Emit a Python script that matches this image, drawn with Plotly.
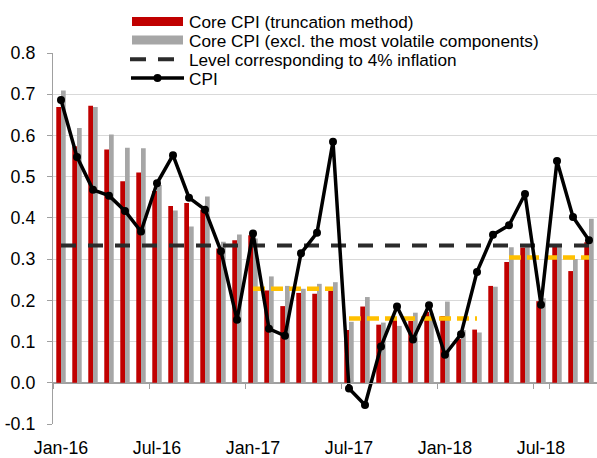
import plotly.graph_objects as go

# ---------------- data ----------------
months = ["Jan-16", "Feb-16", "Mar-16", "Apr-16", "May-16", "Jun-16", "Jul-16", "Aug-16",
          "Sep-16", "Oct-16", "Nov-16", "Dec-16", "Jan-17", "Feb-17", "Mar-17", "Apr-17",
          "May-17", "Jun-17", "Jul-17", "Aug-17", "Sep-17", "Oct-17", "Nov-17", "Dec-17",
          "Jan-18", "Feb-18", "Mar-18", "Apr-18", "May-18", "Jun-18", "Jul-18", "Aug-18",
          "Sep-18", "Oct-18"]

core_trunc = [0.669, 0.574, 0.672, 0.566, 0.489, 0.510, 0.465, 0.429, 0.436, 0.420,
              0.326, 0.346, 0.358, 0.224, 0.186, 0.218, 0.216, 0.224, 0.128, 0.185,
              0.141, 0.155, 0.150, 0.172, 0.162, 0.106, 0.129, 0.235, 0.293, 0.328,
              0.198, 0.330, 0.271, 0.341]

core_excl = [0.709, 0.618, 0.669, 0.602, 0.570, 0.569, 0.480, 0.418, 0.379, 0.452,
             0.342, 0.360, 0.350, 0.258, 0.235, 0.228, 0.240, 0.244, 0.148, 0.208,
             0.146, 0.138, 0.170, 0.168, 0.197, 0.128, 0.122, 0.233, 0.329, 0.330,
             0.205, 0.332, 0.300, 0.398]

cpi = [0.686, 0.548, 0.468, 0.454, 0.417, 0.367, 0.484, 0.552, 0.449, 0.420,
       0.319, 0.153, 0.362, 0.131, 0.114, 0.314, 0.364, 0.585, -0.014, -0.054,
       0.088, 0.185, 0.105, 0.188, 0.068, 0.118, 0.269, 0.359, 0.382, 0.458,
       0.189, 0.538, 0.402, 0.346]

level_4pct_value = 0.333

# period averages (yellow dashed): start month, end month, value
period_starts = ["Jan-17", "Jul-17", "May-18"]
period_ends = ["Jun-17", "Mar-18", "Oct-18"]
period_values = [0.228, 0.156, 0.304]

names = ["Core CPI (truncation method)",
         "Core CPI (excl. the most volatile components)",
         "Level corresponding to 4% inflation",
         "CPI"]

x_tick_labels = ["Jan-16", "Jul-16", "Jan-17", "Jul-17", "Jan-18", "Jul-18"]
y_grid_vals = [-0.1, 0.0, 0.1, 0.2, 0.3, 0.4, 0.5, 0.6, 0.7]
y_tick_vals = [-0.1, 0.0, 0.1, 0.2, 0.3, 0.4, 0.5, 0.6, 0.7, 0.8]
y_tick_text = ["-0.1", "0.0", "0.1", "0.2", "0.3", "0.4", "0.5", "0.6", "0.7", "0.8"]

# ---------------- styling ----------------
RED = "#C00000"
GRAY = "#A6A6A6"
YELLOW = "#FFC000"
DASHC = "#2B2B2B"
AXC = "#A0A0A0"
GRIDC = "#D9D9D9"
FONT = "Liberation Sans, Arial, sans-serif"
FS = 17.8
LEG_FS = 17.2

W, H = 597, 458
PL, PR, PT, PB = 53, 597, 53, 428


def px_x(px):
    return (px - PL) / (PR - PL)


def px_y(py):
    return (PB - py) / (PB - PT)


fig = go.Figure()

fig.add_trace(go.Bar(x=months, y=core_trunc, name=names[0], marker_color=RED,
                     marker_line_width=0, showlegend=False))
fig.add_trace(go.Bar(x=months, y=core_excl, name=names[1], marker_color=GRAY,
                     marker_line_width=0, showlegend=False))

for s, e, v in zip(period_starts, period_ends, period_values):
    seg = months[months.index(s):months.index(e) + 1]
    fig.add_trace(go.Scatter(x=seg, y=[v] * len(seg), mode="lines",
                             line=dict(color=YELLOW, width=4.5, dash="12px,6px"),
                             showlegend=False, hoverinfo="skip"))

fig.add_trace(go.Scatter(x=months, y=[level_4pct_value] * len(months), mode="lines",
                         name=names[2], line=dict(color=DASHC, width=4, dash="15px,12px"),
                         showlegend=False))

fig.add_trace(go.Scatter(x=months, y=cpi, mode="lines+markers", name=names[3],
                         line=dict(color="black", width=3.5),
                         marker=dict(color="black", size=8), showlegend=False))

# empty helper trace so the overlay axes (zero-line ticks, y labels) get drawn
fig.add_trace(go.Scatter(x=[months[0]], y=[None], xaxis="x2", yaxis="y2", mode="lines",
                         showlegend=False, hoverinfo="skip"))

fig.update_layout(
    width=W, height=H, autosize=False,
    margin=dict(l=PL, r=W - PR, t=PT, b=H - PB),
    paper_bgcolor="white", plot_bgcolor="white",
    barmode="group", bargap=0.41, bargroupgap=0.0,
    font=dict(family=FONT, size=FS, color="black"),
    showlegend=False,
    xaxis=dict(type="category", categoryorder="array", categoryarray=months,
               range=[-0.5, len(months) - 0.5], tickmode="array", tickvals=x_tick_labels,
               ticktext=x_tick_labels, ticks="outside", ticklen=8,
               tickcolor="rgba(0,0,0,0)", showline=False, showgrid=False, zeroline=False,
               tickfont=dict(family=FONT, size=FS, color="black")),
    xaxis2=dict(type="category", categoryorder="array", categoryarray=months,
                overlaying="x", anchor="free", position=0.1 / 0.9,
                range=[-0.5, len(months) - 0.5], tickmode="array", tickvals=x_tick_labels,
                tickson="boundaries", ticks="outside", ticklen=5, tickcolor=AXC,
                showline=True, linecolor=AXC, linewidth=1.3, showgrid=False,
                showticklabels=False, zeroline=False),
    yaxis=dict(range=[-0.1, 0.8], tickmode="array", tickvals=y_grid_vals,
               showgrid=True, gridcolor=GRIDC, gridwidth=1.3, showticklabels=False,
               ticks="", zeroline=True, zerolinecolor=AXC, zerolinewidth=1.3,
               showline=False),
    yaxis2=dict(range=[-0.1, 0.8], overlaying="y", anchor="x", side="left",
                tickmode="array", tickvals=y_tick_vals, ticktext=y_tick_text,
                ticks="outside", ticklen=5, tickcolor=AXC, showline=True, linecolor=AXC,
                linewidth=1.3, showgrid=False, zeroline=False, ticklabelstandoff=8,
                tickfont=dict(family=FONT, size=FS, color="black")),
)

# ---------------- custom legend ----------------
leg_text_x = 188
leg_rows = [21.2, 40.5, 59.8, 79.1]
for nm, yy in zip(names, leg_rows):
    fig.add_annotation(x=px_x(leg_text_x), y=px_y(yy), xref="paper", yref="paper",
                       text=nm, showarrow=False, xanchor="left", yanchor="middle",
                       borderpad=0, font=dict(family=FONT, size=LEG_FS, color="black"))

fig.add_shape(type="rect", xref="paper", yref="paper", x0=px_x(132), x1=px_x(183),
              y0=px_y(16.7), y1=px_y(25.7), fillcolor=RED, line_width=0)
fig.add_shape(type="rect", xref="paper", yref="paper", x0=px_x(132), x1=px_x(183),
              y0=px_y(35.3), y1=px_y(44.3), fillcolor=GRAY, line_width=0)
fig.add_shape(type="line", xref="paper", yref="paper", x0=px_x(130), x1=px_x(176),
              y0=px_y(59.3), y1=px_y(59.3), line=dict(color=DASHC, width=4, dash="16px,12px"))
fig.add_shape(type="line", xref="paper", yref="paper", x0=px_x(131), x1=px_x(184),
              y0=px_y(78.3), y1=px_y(78.3), line=dict(color="black", width=3.5))
fig.add_shape(type="circle", xref="paper", yref="paper", x0=px_x(153.5), x1=px_x(161.5),
              y0=px_y(74.3), y1=px_y(82.3), fillcolor="black", line_width=0)

fig.write_html("out.html", config={"displayModeBar": False},
               post_script="document.body.style.margin='0';")
